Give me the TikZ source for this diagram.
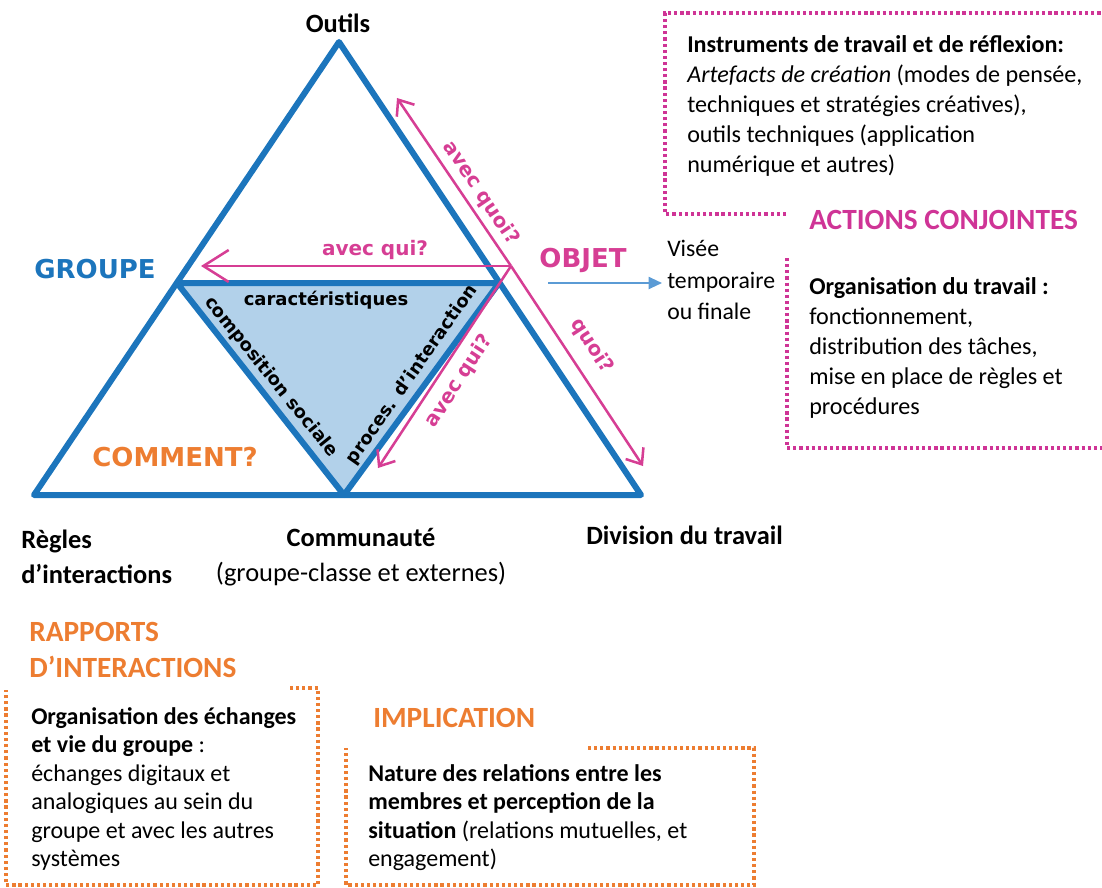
\documentclass[tikz,border=0pt]{standalone}
\usepackage{fontspec}
\setmainfont{Carlito}
\newfontfamily\dejavu{DejaVu Sans}
\usepackage{xcolor}
\usetikzlibrary{arrows.meta}
\definecolor{triblue}{RGB}{28,117,188}
\definecolor{trifill}{RGB}{178,209,234}
\definecolor{qpink}{RGB}{214,62,148}
\definecolor{headpink}{RGB}{207,52,150}
\definecolor{dorange}{RGB}{237,125,49}
\definecolor{aimblue}{RGB}{91,155,213}

\tikzset{
  triedge/.style={draw=triblue, line width=4.5pt, line join=round},
  qarrow/.style={draw=qpink, line width=1.9pt, -{Straight Barb[length=10pt,width=16pt]}},
  aimarrow/.style={draw=aimblue, line width=1.5pt, -{Triangle[length=10pt,width=9pt]}},
  qlabel/.style={text=qpink, font=\dejavu\bfseries\fontsize{15}{15}\selectfont, inner sep=0.75pt},
  innerlabel/.style={font=\dejavu\bfseries\fontsize{13.5}{13.5}\selectfont, inner sep=0.75pt},
  pole/.style={font=\dejavu\bfseries\fontsize{19.5}{19.5}\selectfont, inner sep=0.75pt},
  vertex/.style={font=\bfseries\fontsize{19.8}{26}\selectfont, inner sep=0.75pt},
  boxtext/.style={font=\fontsize{18.1}{22.5}\selectfont, inner sep=0.75pt, align=left},
  heading/.style={font=\bfseries\fontsize{22}{27}\selectfont, inner sep=0.75pt, align=left},
  pinkdots/.style={draw=headpink, line width=2.4pt, dash pattern=on 2.4pt off 2.2pt},
  orangedots/.style={draw=dorange, line width=2.4pt, dash pattern=on 2.4pt off 2.2pt},
}

\begin{document}
\begin{tikzpicture}[x=0.75pt,y=0.75pt,yscale=-1,xscale=1]
\useasboundingbox (0,0) rectangle (1102,888);

%Triangle corners
\coordinate (outils) at (339,42);
\coordinate (regles) at (34,495);
\coordinate (division) at (641,495);
\coordinate (groupe) at (177,283);
\coordinate (objet) at (499,283);
\coordinate (communaute) at (344,495);

%Inner triangle
\fill[trifill] (groupe) -- (objet) -- (communaute) -- cycle;
\draw[triedge] (groupe) -- (objet) -- (communaute) -- cycle;
%Outer triangle
\draw[triedge] (outils) -- (division) -- (regles) -- cycle;

%Pink arrows
\coordinate (cross) at (511,266);
\coordinate (quiend) at (201,266);
\coordinate (quoitop) at (397,98);
\coordinate (quoibot) at (643,466);
\coordinate (quibot) at (378,468);
\draw[qarrow, -{Straight Barb[length=19pt,width=24pt]}] (cross) -- (quiend);
\draw[qarrow] (cross) -- (quoitop);
\draw[qarrow] (cross) -- (quoibot);
\draw[qarrow] (cross) -- (quibot);

% Text Node
\draw (375,250) node (avecqui) [qlabel] {avec qui?};
% Text Node
\draw (481,193) node (avecquoi) [qlabel, rotate=-56] {avec quoi?};
% Text Node
\draw (592,346) node (quoi) [qlabel, rotate=-57] {quoi?};
% Text Node
\draw (459,381) node (avecquibas) [qlabel, rotate=57] {avec qui?};
% Text Node
\draw (326,300) node (caract) [innerlabel] {caractéristiques};
% Text Node
\draw (271,377) node (compo) [innerlabel, rotate=-51] {composition sociale};
% Text Node
\draw (412,375) node (proces) [innerlabel, rotate=55] {proces. d’interaction};

% Text Node
\draw (95,269) node (groupelbl) [pole, text=triblue] {GROUPE};
% Text Node
\draw (583,260) node (objetlbl) [pole, text=qpink] {OBJET};
% Text Node
\draw (175,457) node (commentlbl) [pole, text=dorange] {COMMENT?};

% Text Node
\draw (338,23) node (outilslbl) [vertex] {Outils};
% Text Node
\draw (20,529) node (regleslbl) [vertex, anchor=north west, align=left, font=\bfseries\fontsize{19.8}{26.3}\selectfont] {Règles\\d’interactions};
% Text Node
\draw (361,527) node (commlbl) [vertex, anchor=north, align=center, font=\bfseries\fontsize{19.8}{26.3}\selectfont] {Communauté\\{\mdseries (groupe-classe et externes)}};
% Text Node
\draw (585,525) node (divlbl) [vertex, anchor=north west] {Division du travail};

% Text Node
\draw (666,239) node (visee) [boxtext, font=\fontsize{17.8}{23.6}\selectfont, anchor=north west] {Visée\\temporaire\\ou finale};
%Straight Lines
\coordinate (objarrow) at (548,283);
\draw[aimarrow, shorten >=3pt] (objarrow) -- (objarrow -| visee.west);

%Dotted frames
\draw[pinkdots] (786,214) -- (665,214) -- (665,13) -- (1102,13);
\draw[pinkdots] (787,258) -- (787,448) -- (1102,448);
\draw[orangedots] (290,688) -- (318,688) -- (318,885) -- (6,885) -- (6,690);
\draw[orangedots] (588,748) -- (754,748) -- (754,885) -- (346,885) -- (346,748);

% Text Node
\draw (686,34) node (instruments) [boxtext, anchor=north west] {\textbf{Instruments de travail et de réflexion:}\\\textit{Artefacts de création} (modes de pensée,\\techniques et stratégies créatives),\\outils techniques (application\\numérique et autres)};
% Text Node
\draw (808,229) node (actions) [heading, text=headpink, anchor=base west] {ACTIONS CONJOINTES};
% Text Node
\draw (808,276) node (orga) [boxtext, anchor=north west] {\textbf{Organisation du travail :}\\fonctionnement,\\distribution des tâches,\\mise en place de règles et\\procédures};

% Text Node
\draw (28,621) node (rapports) [heading, text=dorange, anchor=north west] {RAPPORTS\\D’INTERACTIONS};
% Text Node
\draw (372,727) node (implication) [heading, text=dorange, anchor=base west] {IMPLICATION};
% Text Node
\draw (30,706) node (echanges) [boxtext, font=\fontsize{18}{21.4}\selectfont, anchor=north west] {\textbf{Organisation des échanges}\\\textbf{et vie du groupe} :\\échanges digitaux et\\analogiques au sein du\\groupe et avec les autres\\systèmes};
% Text Node
\draw (367,763) node (nature) [boxtext, font=\fontsize{18}{21.4}\selectfont, anchor=north west] {\textbf{Nature des relations entre les}\\\textbf{membres et perception de la}\\\textbf{situation} (relations mutuelles, et\\engagement)};

\end{tikzpicture}
\end{document}
